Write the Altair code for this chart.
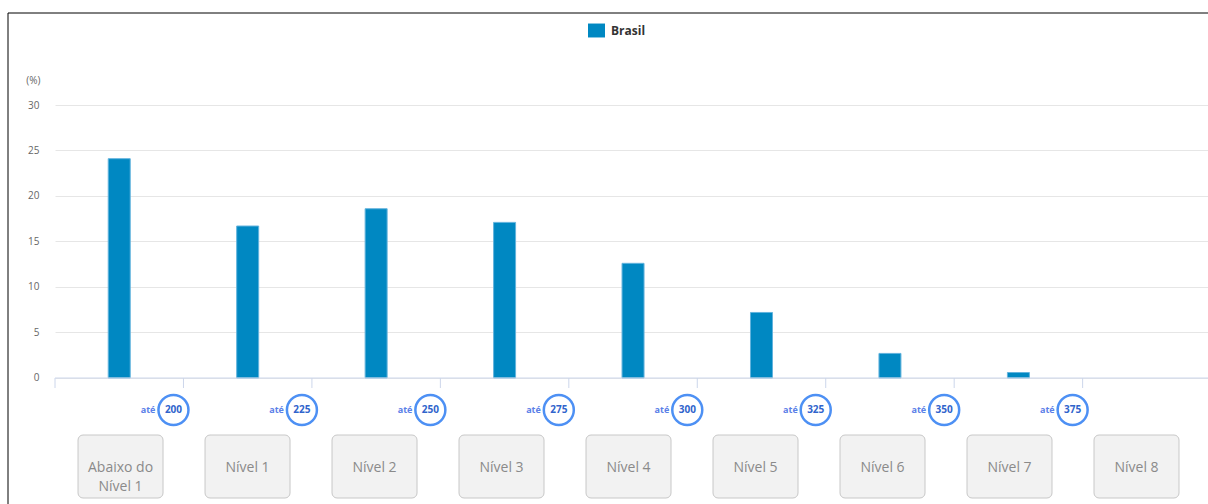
import altair as alt
import pandas as pd

# Distribuição dos estudantes por nível de proficiência
niveis = [
    "Abaixo do\nNível 1", "Nível 1", "Nível 2", "Nível 3", "Nível 4",
    "Nível 5", "Nível 6", "Nível 7", "Nível 8",
]
percentuais = [24.1, 16.7, 18.6, 17.1, 12.6, 7.2, 2.7, 0.6, 0.0]
limites = [200, 225, 250, 275, 300, 325, 350, 375]
marcas_y = [0, 5, 10, 15, 20, 25, 30]
serie = "Brasil"

W, H = 1153, 399
X_MAX = 8.976
Y_ZERO_PX = 273  # posição em pixels do valor 0 dentro da área do gráfico
FONTE = "Open Sans"
COR_EIXO = "#ccd6eb"

dados = pd.DataFrame({
    "nivel": niveis,
    "idx": list(range(len(niveis))),
    "pct": percentuais,
    "serie": serie,
})
cortes = pd.DataFrame({"pos": list(range(1, len(limites) + 1)), "limite": limites})
divisas = pd.DataFrame({"pos": list(range(len(niveis)))})
eixo = pd.DataFrame({"ini": [0.0], "fim": [X_MAX]})

x_scale = alt.Scale(domain=[0, X_MAX], nice=False, zero=False)
y_scale = alt.Scale(domain=[-13.85, 30], nice=False, zero=False)
btn_scale = alt.Scale(domain=[-0.016, 9.063], nice=False, zero=False)

barras = (
    alt.Chart(dados)
    .transform_filter("datum.pct > 0")
    .transform_calculate(x0="datum.idx + 0.5 - 0.0856", x1="datum.idx + 0.5 + 0.0856")
    .mark_bar(stroke="#63b3dd", strokeWidth=1)
    .encode(
        x=alt.X("x0:Q", scale=x_scale, axis=None),
        x2="x1:Q",
        y=alt.Y(
            "pct:Q", scale=y_scale,
            axis=alt.Axis(
                values=marcas_y, grid=True, gridColor="#e6e6e6", domain=False, ticks=False,
                labelPadding=16, labelColor="#666666", labelFontSize=10, labelFont=FONTE,
                title="(%)", titleAngle=0, titleAlign="right", titleBaseline="middle",
                titleX=-15, titleY=-25, titleFontWeight="normal", titleColor="#666666",
                titleFontSize=10, titleFont=FONTE,
            ),
        ),
        y2=alt.datum(0),
        color=alt.Color(
            "serie:N",
            scale=alt.Scale(domain=[serie], range=["#0088c2"]),
            legend=alt.Legend(
                title=None, orient="none", legendX=533, legendY=-83, direction="horizontal",
                symbolType="M-1,-0.82H1V0.82H-1Z", symbolSize=289, symbolStrokeWidth=0,
                labelFontSize=12, labelFontWeight="bold", labelColor="#333333",
                labelFont=FONTE, labelOffset=6, padding=0,
            ),
        ),
    )
)

# linha do eixo horizontal e marcas nas divisas entre níveis
linha_eixo = (
    alt.Chart(eixo)
    .mark_rule(color=COR_EIXO, strokeWidth=1)
    .encode(x=alt.X("ini:Q", scale=x_scale, axis=None), x2="fim:Q",
            y=alt.value(Y_ZERO_PX))
)
marcas_x = (
    alt.Chart(divisas)
    .mark_rule(color=COR_EIXO, strokeWidth=1)
    .encode(x=alt.X("pos:Q", scale=x_scale, axis=None),
            y=alt.value(Y_ZERO_PX), y2=alt.value(Y_ZERO_PX + 10))
)

circulos = (
    alt.Chart(cortes)
    .mark_point(shape="circle", size=900, filled=False, strokeWidth=2.5,
                color="#4d90f4", opacity=1, xOffset=-10)
    .encode(x=alt.X("pos:Q", scale=x_scale, axis=None), y=alt.value(305))
)
numeros = (
    alt.Chart(cortes)
    .mark_text(fontSize=10, fontWeight="bold", color="#3064cc", font=FONTE,
               xOffset=-10, baseline="middle")
    .encode(x=alt.X("pos:Q", scale=x_scale, axis=None), y=alt.value(305), text="limite:N")
)
ate = (
    alt.Chart(cortes)
    .mark_text(text="até", fontSize=9, fontWeight="bold", color="#5a80e8", font=FONTE,
               align="right", xOffset=-28, baseline="middle")
    .encode(x=alt.X("pos:Q", scale=x_scale, axis=None), y=alt.value(305))
)

moldura = (
    alt.Chart(eixo)
    .mark_rect(fill="transparent", stroke="#000000", strokeWidth=1)
    .encode(x=alt.value(-47), x2=alt.value(1300), y=alt.value(-92), y2=alt.value(520))
)

principal = alt.layer(moldura, barras, linha_eixo, marcas_x, circulos, numeros, ate)

botoes = (
    alt.Chart(dados)
    .transform_calculate(b0="datum.idx + 0.5 - 0.3346", b1="datum.idx + 0.5 + 0.3346")
    .mark_rect(cornerRadius=5, fill="#f2f2f2", stroke="#c8c8c8", strokeWidth=1)
    .encode(x=alt.X("b0:Q", scale=btn_scale, axis=None), x2="b1:Q",
            y=alt.value(330), y2=alt.value(393))
)
rotulos = (
    alt.Chart(dados)
    .transform_calculate(c="datum.idx + 0.5")
    .mark_text(fontSize=14, color="#8a8a8a", font=FONTE, lineBreak="\n",
               lineHeight=19, baseline="middle")
    .encode(x=alt.X("c:Q", scale=btn_scale, axis=None), y=alt.value(363), text="nivel:N")
)
linha_botoes = alt.layer(botoes, rotulos)

chart = (
    alt.layer(principal, linha_botoes)
    .resolve_scale(x="independent")
    .properties(
        width=W, height=H,
        autosize=alt.AutoSizeParams(type="none"),
        padding={"left": 55, "top": 105, "right": 0, "bottom": 0},
        background="#ffffff",
    )
    .configure(
        font=FONTE,
        view=alt.ViewConfig(stroke="transparent", strokeWidth=0),
        axis=alt.AxisConfig(domain=False),
    )
)

chart.save("out.html", embed_options={"renderer": "svg", "actions": False})
